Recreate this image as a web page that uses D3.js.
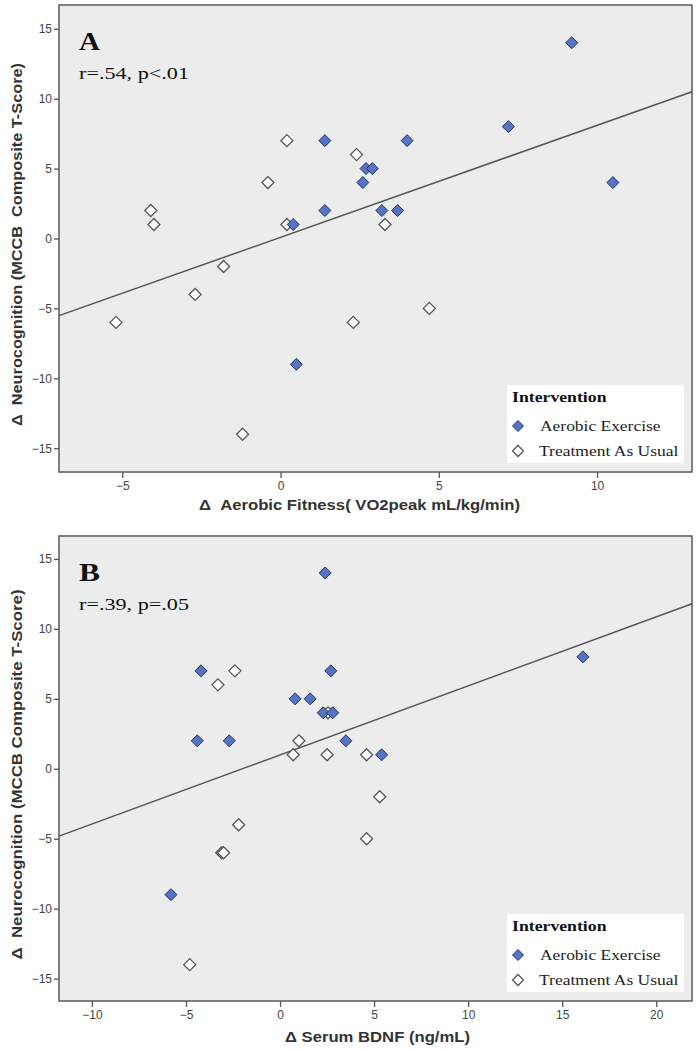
<!DOCTYPE html>
<html><head><meta charset="utf-8">
<script src="https://cdn.jsdelivr.net/npm/d3@7"></script>
<style>
body{margin:0;background:#fff;}
svg text{white-space:pre;}
</style></head>
<body><svg id="c" width="696" height="1049"></svg>
<script>
// Panel A data: change in aerobic fitness vs change in neurocognition
const aAerobicX = [9.2, 7.2, 10.5, 4.0, 1.4, 1.4, 0.4, 2.7, 2.9, 2.6, 3.2, 3.7, 0.5];
const aAerobicY = [14, 8, 4, 7, 7, 2, 1, 5, 5, 4, 2, 2, -9];
const aTauX = [-4.1, -4.0, -0.4, 0.2, 0.2, 2.4, 3.3, -1.8, -2.7, -5.2, -1.2, 2.3, 4.7];
const aTauY = [2, 1, 4, 7, 1, 6, 1, -2, -4, -6, -14, -6, -5];
// Panel B data: change in serum BDNF vs change in neurocognition
const bAerobicX = [2.4, -4.2, 2.7, 0.8, 1.6, 2.3, 2.8, -4.4, -2.7, 3.5, 5.4, 16.1, -5.8];
const bAerobicY = [14, 7, 7, 5, 5, 4, 4, 2, 2, 2, 1, 8, -9];
const bTauX = [-3.3, -2.4, 0.7, 1.0, 2.5, 4.6, 5.3, 4.6, -2.2, -3.1, -3.0, -4.8, 2.55];
const bTauY = [6, 7, 1, 2, 1, 1, -2, -5, -4, -6, -6, -14, 4];

const aXTicks = [-5, 0, 5, 10];
const bXTicks = [-10, -5, 0, 5, 10, 15, 20];
const yTicks = [-15, -10, -5, 0, 5, 10, 15];
const groups = ["Aerobic Exercise", "Treatment As Usual"];
const aYTitle = "\u0394  Neurocognition (MCCB  Composite T-Score)";
const bYTitle = "\u0394  Neurocognition (MCCB Composite T-Score)";

const panels = [
  {letter:"A", stat:"r=.54, p<.01", xTitle:"\u0394  Aerobic Fitness( VO2peak mL/kg/min)", yTitle:aYTitle,
   ax:aAerobicX, ay:aAerobicY, tx:aTauX, ty:aTauY, xDom:[-7,13], yDom:[-16.7,16.7], xTicks:aXTicks,
   top:5, bottom:472, xTitleX:359.5, xTitleY:510, xTitleW:321, yTitleW:363},
  {letter:"B", stat:"r=.39, p=.05", xTitle:"\u0394 Serum BDNF (ng/mL)", yTitle:bYTitle,
   ax:bAerobicX, ay:bAerobicY, tx:bTauX, ty:bTauY, xDom:[-11.75,21.9], yDom:[-16.6,16.64], xTicks:bXTicks,
   top:536, bottom:1001, xTitleX:377.5, xTitleY:1042, xTitleW:185, yTitleW:370}
];

const svg = d3.select("#c");
const left = 59, right = 692;
const blue = "#5674c4", blueStroke = "#22306a";
const serif = "Liberation Serif, Times New Roman, serif";
const sans = "Liberation Sans, Arial, sans-serif";

function diamondPath(s){
  const h = s/2;
  return `M0,${-h}L${h},0L0,${h}L${-h},0Z`;
}
function fit(sel, w){ return sel.attr("textLength", w).attr("lengthAdjust", "spacingAndGlyphs"); }

panels.forEach(p => {
  const x = d3.scaleLinear().domain(p.xDom).range([left, right]);
  const y = d3.scaleLinear().domain(p.yDom).range([p.bottom, p.top]);
  const g = svg.append("g");
  g.append("rect").attr("x", left).attr("y", p.top).attr("width", right-left).attr("height", p.bottom-p.top)
    .attr("fill", "#ececec").attr("stroke", "#5a5a5a").attr("stroke-width", 1.5);

  const yAxis = g.append("g").attr("transform", `translate(${left},0)`)
    .call(d3.axisLeft(y).tickValues(yTicks).tickSize(5).tickPadding(2).tickFormat(d3.format("d")));
  const xAxis = g.append("g").attr("transform", `translate(0,${p.bottom})`)
    .call(d3.axisBottom(x).tickValues(p.xTicks).tickSize(6).tickPadding(3).tickFormat(d3.format("d")));
  [xAxis, yAxis].forEach(a => {
    a.select(".domain").remove();
    a.selectAll("line").attr("stroke", "#555").attr("stroke-width", 1.3);
    a.selectAll("text").attr("fill", "#444").attr("font-family", sans).attr("font-size", 12);
  });

  // regression line (least squares through all points)
  const X = p.ax.concat(p.tx), Y = p.ay.concat(p.ty);
  const mx = d3.mean(X), my = d3.mean(Y);
  const sxy = d3.sum(X, (v,i) => (v-mx)*(Y[i]-my)), sxx = d3.sum(X, v => (v-mx)*(v-mx));
  const b = sxy/sxx, a0 = my - b*mx;
  g.append("line").attr("x1", x(p.xDom[0])).attr("y1", y(a0 + b*p.xDom[0]))
    .attr("x2", x(p.xDom[1])).attr("y2", y(a0 + b*p.xDom[1]))
    .attr("stroke", "#555").attr("stroke-width", 1.5);

  // points
  const tau = p.tx.map((v,i) => [v, p.ty[i]]);
  const aer = p.ax.map((v,i) => [v, p.ay[i]]);
  g.selectAll(".tau").data(tau).join("path").attr("class","tau")
    .attr("d", diamondPath(12)).attr("transform", d => `translate(${x(d[0])},${y(d[1])})`)
    .attr("fill", "#fff").attr("stroke", "#555").attr("stroke-width", 1.3);
  g.selectAll(".aer").data(aer).join("path").attr("class","aer")
    .attr("d", diamondPath(12)).attr("transform", d => `translate(${x(d[0])},${y(d[1])})`)
    .attr("fill", blue).attr("stroke", blueStroke).attr("stroke-width", 1);

  // panel letter & stats
  fit(g.append("text").attr("x", 79).attr("y", p.top + 45).text(p.letter)
    .attr("font-family", serif).attr("font-weight", "bold").attr("font-size", 26).attr("fill", "#111"), 21);
  fit(g.append("text").attr("x", 79).attr("y", p.top + 74).text(p.stat)
    .attr("font-family", serif).attr("font-size", 17).attr("fill", "#111"), 110);

  // legend
  const lx = 507, ly = p.bottom - 87;
  const lg = g.append("g");
  lg.append("rect").attr("x", lx).attr("y", ly).attr("width", 177).attr("height", 78).attr("fill", "#fff");
  fit(lg.append("text").attr("x", lx+5).attr("y", ly+17).text("Intervention")
    .attr("font-family", serif).attr("font-weight", "bold").attr("font-size", 15).attr("fill", "#111"), 94.5);
  const legW = [120.5, 139.5];
  groups.forEach((name, i) => {
    const cy = ly + 41 + i*25;
    lg.append("path").attr("d", diamondPath(11)).attr("transform", `translate(${lx+11},${cy})`)
      .attr("fill", i === 0 ? blue : "#fff").attr("stroke", i === 0 ? blueStroke : "#555").attr("stroke-width", i === 0 ? 1 : 1.3);
    fit(lg.append("text").attr("x", i === 0 ? lx+33 : lx+32).attr("y", cy+5).text(name)
      .attr("font-family", serif).attr("font-size", 15.5).attr("fill", "#222"), legW[i]);
  });

  // axis titles
  fit(g.append("text").attr("x", p.xTitleX).attr("y", p.xTitleY).attr("text-anchor", "middle").text(p.xTitle)
    .attr("font-family", sans).attr("font-weight", "bold").attr("font-size", 14).attr("fill", "#333"), p.xTitleW);
  const yc = (p.top + p.bottom)/2 + 6;
  fit(g.append("text").attr("transform", `translate(22,${yc}) rotate(-90)`).attr("text-anchor", "middle").text(p.yTitle)
    .attr("font-family", sans).attr("font-weight", "bold").attr("font-size", 14).attr("fill", "#333"), p.yTitleW);
});
</script></body></html>
